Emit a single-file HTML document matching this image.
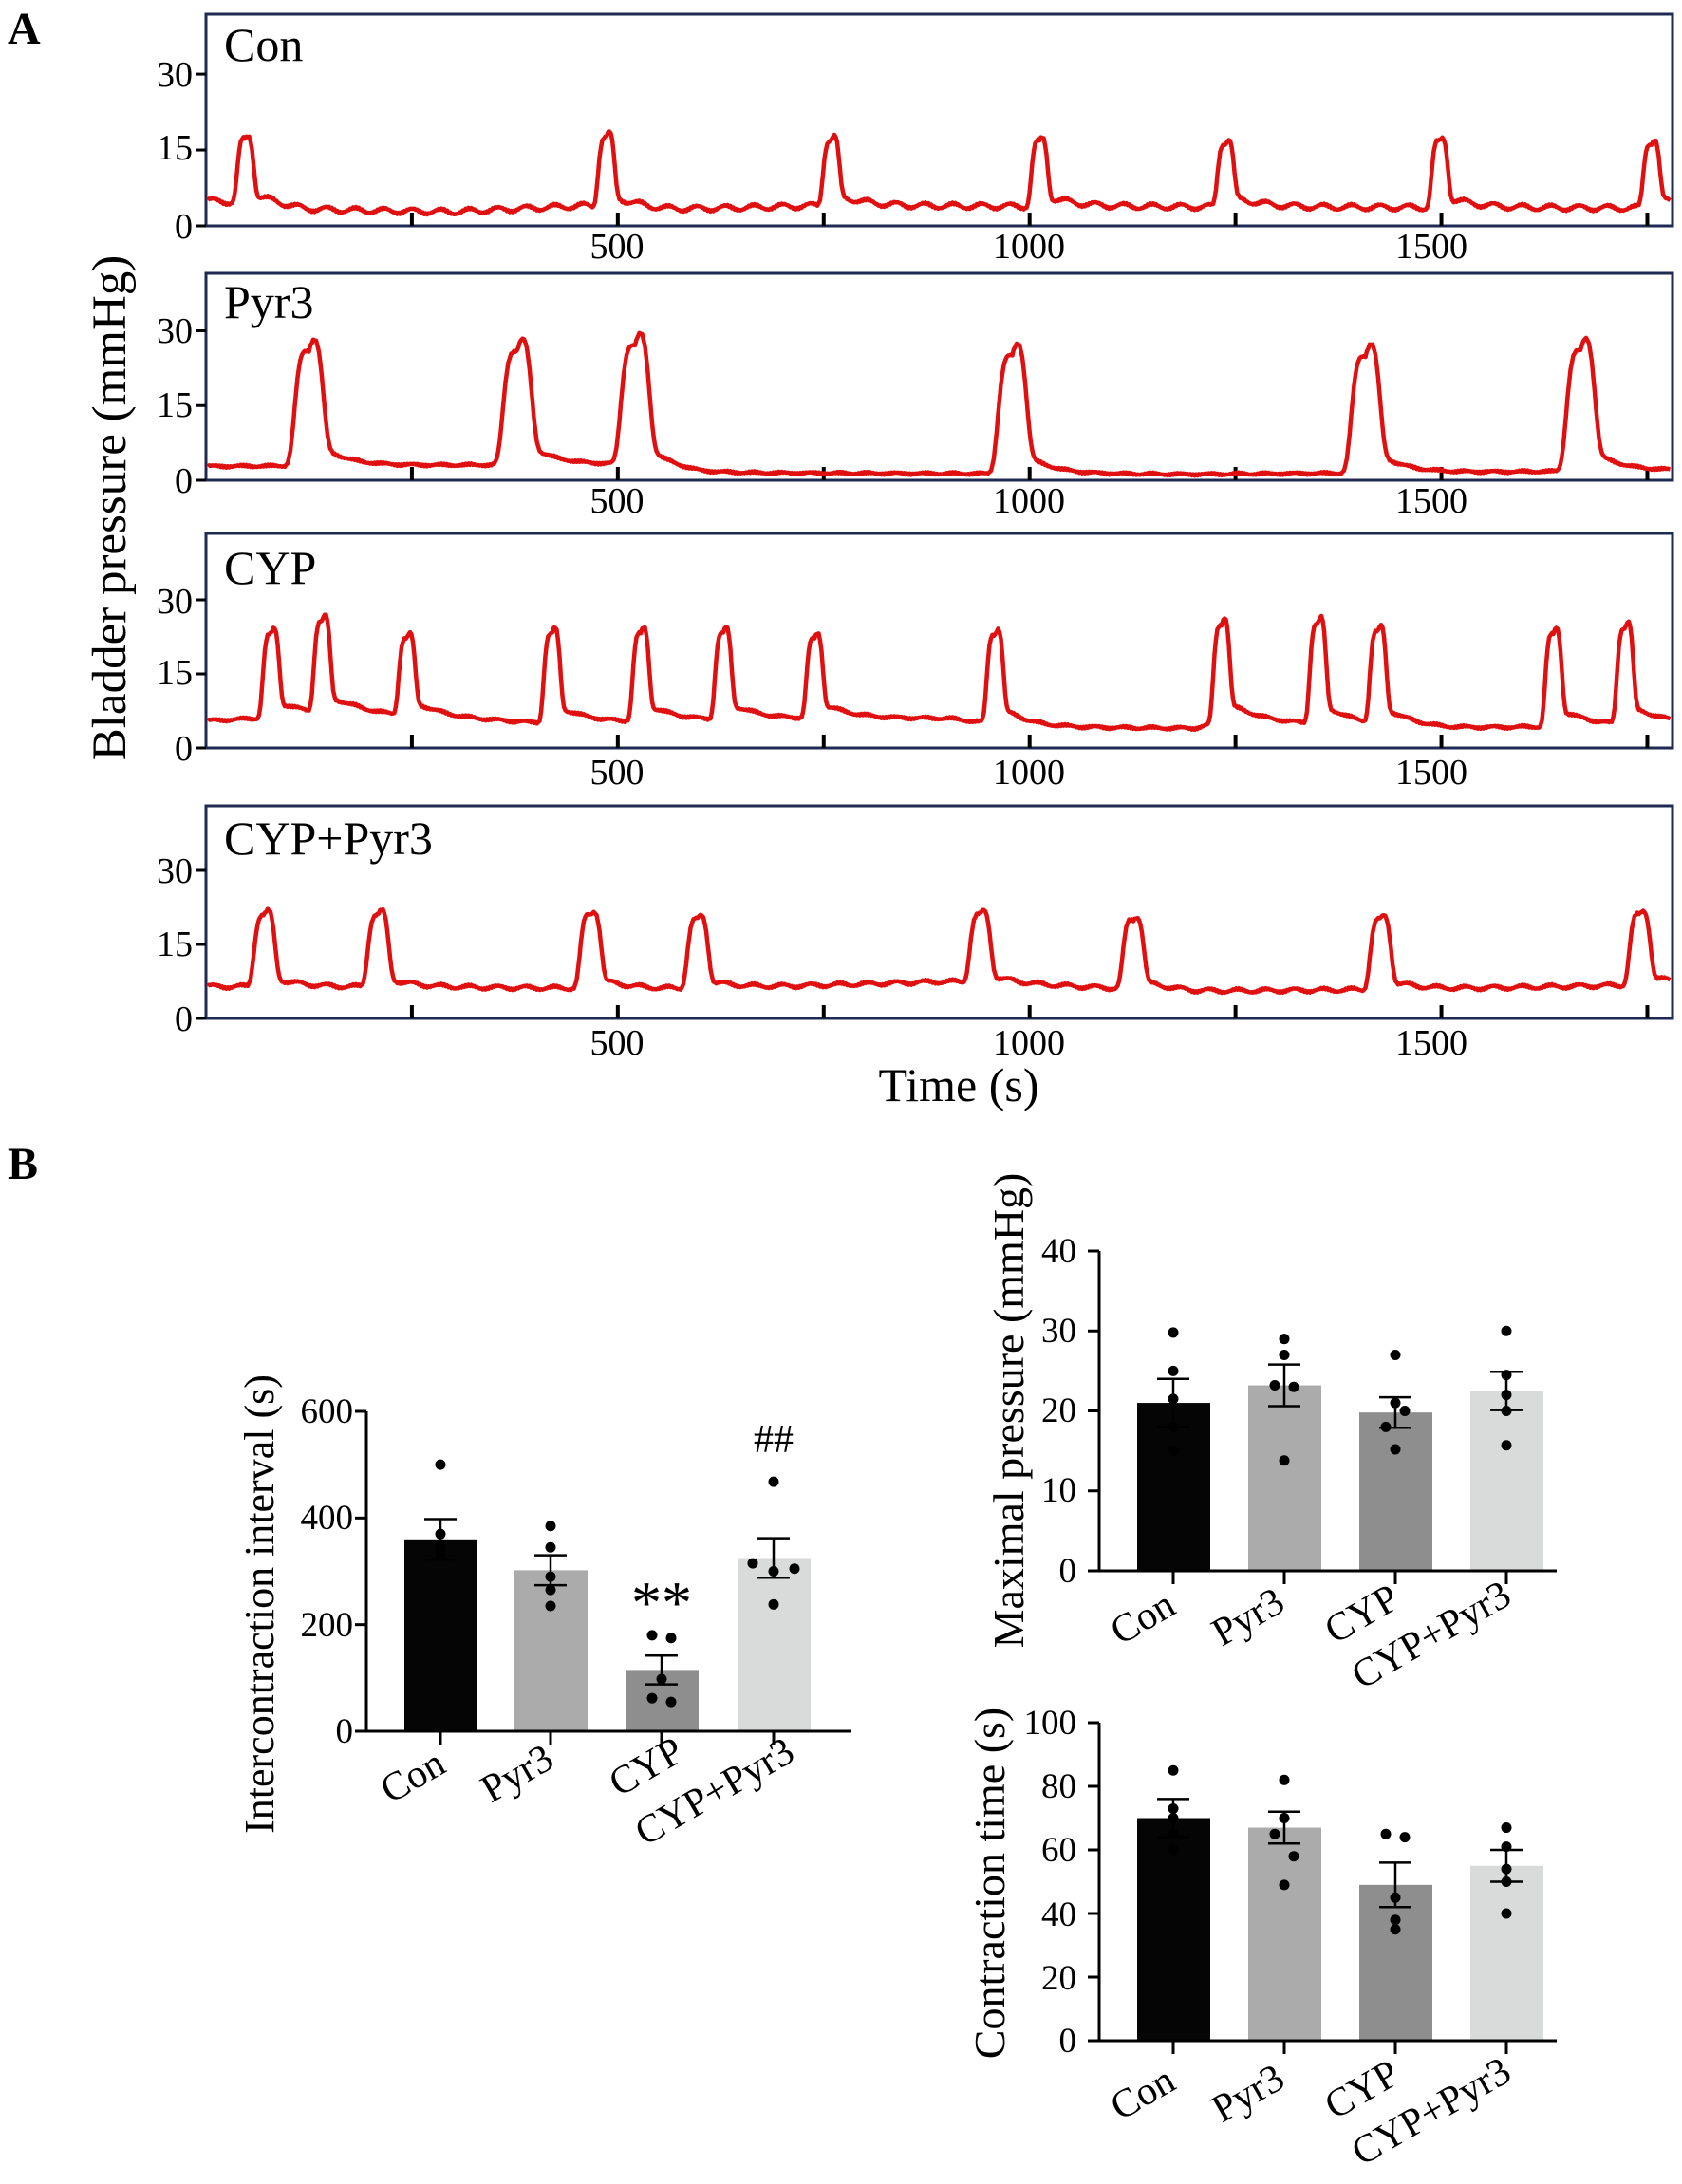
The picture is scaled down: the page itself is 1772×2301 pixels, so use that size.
<!DOCTYPE html>
<html><head><meta charset="utf-8"><style>
html,body{margin:0;padding:0;background:#fff;}
svg{display:block;font-family:"Liberation Serif",serif;}
</style></head><body>
<svg id="s" width="1772" height="2301" viewBox="0 0 1772 2301" xmlns="http://www.w3.org/2000/svg" font-family="Liberation Serif, serif">
<rect width="1772" height="2301" fill="#fff"/>
<text x="8" y="46" font-size="48" font-weight="bold">A</text>
<text x="8" y="1242" font-size="48" font-weight="bold">B</text>
<g id="traces"></g>
<g font-size="38" text-anchor="end">
<text x="203" y="91">30</text><text x="203" y="168">15</text><text x="203" y="251">0</text>
<text x="203" y="361">30</text><text x="203" y="439">15</text><text x="203" y="519">0</text>
<text x="203" y="646">30</text><text x="203" y="721">15</text><text x="203" y="801">0</text>
<text x="203" y="930">30</text><text x="203" y="1007">15</text><text x="203" y="1086">0</text>
</g>
<g font-size="38" text-anchor="middle">
<text x="650" y="272">500</text><text x="1084" y="272">1000</text><text x="1508" y="272">1500</text>
<text x="650" y="540">500</text><text x="1084" y="540">1000</text><text x="1508" y="540">1500</text>
<text x="650" y="826">500</text><text x="1084" y="826">1000</text><text x="1508" y="826">1500</text>
<text x="650" y="1111">500</text><text x="1084" y="1111">1000</text><text x="1508" y="1111">1500</text>
</g>
<g font-size="50">
<text x="236" y="64">Con</text><text x="236" y="335">Pyr3</text><text x="236" y="615">CYP</text><text x="236" y="900">CYP+Pyr3</text>
</g>
<text x="1010" y="1160" font-size="50" text-anchor="middle">Time (s)</text>
<text transform="translate(132,535) rotate(-90)" font-size="51" text-anchor="middle">Bladder pressure (mmHg)</text>

<g id="bars"></g>
<!-- left chart -->
<g font-size="37" text-anchor="end">
<text x="372" y="1499">600</text><text x="372" y="1611">400</text><text x="372" y="1724">200</text><text x="372" y="1836">0</text>
</g>
<text transform="translate(288,1690) rotate(-90)" font-size="44" text-anchor="middle">Intercontraction interval (s)</text>
<g font-size="42" text-anchor="middle" dominant-baseline="central">
<text transform="translate(435,1872) rotate(-30)">Con</text>
<text transform="translate(545,1869) rotate(-30)">Pyr3</text>
<text transform="translate(681,1862) rotate(-30)">CYP</text>
<text transform="translate(753,1888) rotate(-30)">CYP+Pyr3</text>
</g>
<text x="697" y="1710" font-size="64" text-anchor="middle">**</text>
<text x="815" y="1530" font-size="42" text-anchor="middle">##</text>
<!-- right top -->
<g font-size="37" text-anchor="end">
<text x="1134" y="1330">40</text><text x="1134" y="1414">30</text><text x="1134" y="1498">20</text><text x="1134" y="1582">10</text><text x="1134" y="1667">0</text>
</g>
<text transform="translate(1078,1486) rotate(-90)" font-size="46" text-anchor="middle">Maximal pressure (mmHg)</text>
<g font-size="42" text-anchor="middle" dominant-baseline="central">
<text transform="translate(1204,1705) rotate(-30)">Con</text>
<text transform="translate(1315,1704) rotate(-30)">Pyr3</text>
<text transform="translate(1435,1701) rotate(-30)">CYP</text>
<text transform="translate(1508,1723) rotate(-30)">CYP+Pyr3</text>
</g>
<!-- right bottom -->
<g font-size="37" text-anchor="end">
<text x="1134" y="1827">100</text><text x="1134" y="1894">80</text><text x="1134" y="1961">60</text><text x="1134" y="2029">40</text><text x="1134" y="2096">20</text><text x="1134" y="2162">0</text>
</g>
<text transform="translate(1058,1984) rotate(-90)" font-size="46" text-anchor="middle">Contraction time (s)</text>
<g font-size="42" text-anchor="middle" dominant-baseline="central">
<text transform="translate(1204,2206) rotate(-30)">Con</text>
<text transform="translate(1315,2206) rotate(-30)">Pyr3</text>
<text transform="translate(1435,2202) rotate(-30)">CYP</text>
<text transform="translate(1508,2225) rotate(-30)">CYP+Pyr3</text>
</g>
</svg>
<script>
(function(){
var NS="http://www.w3.org/2000/svg";
function el(p,t,a){var e=document.createElementNS(NS,t);for(var k in a)e.setAttribute(k,a[k]);p.appendChild(e);return e;}
function interp(pts,t){if(t<=pts[0][0])return pts[0][1];for(var i=1;i<pts.length;i++){if(t<=pts[i][0]){var a=pts[i-1],b=pts[i];return a[1]+(b[1]-a[1])*(t-a[0])/(b[0]-a[0]);}}return pts[pts.length-1][1];}
var T=document.getElementById('traces');
var X0=217,XR=1762,SX=0.8677;
var panels=[
 {top:15,bot:238,sc:5.33,w:11,tail:0.25,osc:0.5,bp:[[0,5],[60,4.5],[120,3.2],[300,2.8],[460,4],[560,3.2],[740,4],[1800,3.5]],
  pk:[[48,17],[486,17.5],[759,17],[1012,16.5],[1238,16.5],[1498,16.5],[1755,16.5]]},
 {top:288,bot:506,sc:5.25,w:19,tail:0.3,osc:0.15,bp:[[0,2.8],[500,3.2],[600,1.5],[1200,1.2],[1800,2]],
  pk:[[125,26],[378,26],[521,27],[979,25],[1408,25],[1669,26]]},
 {top:562,bot:788,sc:5.2,w:11,tail:0.3,osc:0.2,bp:[[0,5.5],[180,7],[300,6],[420,5],[740,6],[900,6],[1000,4.2],[1200,4],[1240,5.5],[1500,4],[1700,4.5],[1800,5]],
  pk:[[79,23],[141,25],[244,22],[420,23],[528,23],[628,23],[739,22],[958,23],[1233,25],[1350,25],[1423,23],[1636,23],[1723,24]]},
 {top:849,bot:1073,sc:5.2,w:14,tail:0.2,osc:0.35,bp:[[0,6.5],[300,6.3],[600,6],[900,7.5],[1200,5.5],[1500,6],[1800,7]],
  pk:[[71,21],[209,21],[467,21],[597,20],[940,21],[1126,20],[1426,20],[1741,21]]}
];
panels.forEach(function(P){
  el(T,'rect',{x:X0,y:P.top,width:XR-X0,height:P.bot-P.top,fill:'none',stroke:'#1f2a52','stroke-width':3});
  [0,15,30].forEach(function(v){var y=P.bot-v*P.sc;el(T,'line',{x1:206,x2:X0,y1:y,y2:y,stroke:'#000','stroke-width':3});});
  for(var s=250;s<1800;s+=250){var x=X0+s*SX;el(T,'line',{x1:x,x2:x,y1:P.bot,y2:P.bot-14,stroke:'#000','stroke-width':4});}
  var d='';
  for(var px=X0+2;px<=XR-2;px+=1.5){
    var t=(px-X0)/SX,v=interp(P.bp,t)+P.osc*Math.sin(t/5.5)+0.15*Math.sin(t*1.7);
    P.pk.forEach(function(k){var dt=t-k[0],A=k[1]-interp(P.bp,k[0]);
      var g=Math.exp(-Math.pow(dt/P.w,4));
      var tl=dt>0?P.tail*A*Math.exp(-dt/30)*(1-Math.exp(-dt/10)):0;
      v+=A*g+tl;});
    var y=P.bot-v*P.sc;d+=(d?'L':'M')+px.toFixed(1)+' '+y.toFixed(1);
  }
  el(T,'path',{d:d,fill:'none',stroke:'#e01010','stroke-width':4.5,'stroke-linejoin':'round'});
});
var B=document.getElementById('bars');
var cols=['#050505','#ababab','#8e8e8e','#d9dbda'];
var charts=[
 {ax:386,x1:897,y0:1824,sc:337/600,ticks:[0,200,400,600],cx:[464,580,697,815],
  v:[360,302,115,325],e:[38,28,27,37],dots:[[500,370,340,350,330],[385,345,290,265,235],[180,175,98,62,55],[468,315,300,305,238]],
  dx:[[0,0,0,0,0],[0,0,0,0,0],[-10,10,0,-10,10],[0,-22,0,22,0]]},
 {ax:1158,x1:1640,y0:1655,sc:337/40,ticks:[0,10,20,30,40],cx:[1236,1353,1470,1587],
  v:[21,23.2,19.8,22.5],e:[3,2.6,1.9,2.4],dots:[[29.8,25,21.5,18,15],[29,27,23.2,23,13.8],[27,21,20,18,15.2],[30,24.5,22,20,15.7]],
  dx:[[0,0,0,0,0],[0,0,-10,10,0],[0,0,10,-10,0],[0,0,0,0,0]]},
 {ax:1158,x1:1640,y0:2150,sc:335/100,ticks:[0,20,40,60,80,100],cx:[1236,1353,1470,1587],
  v:[70,67,49,55],e:[6,5,7,5],dots:[[85,73,70,65,60],[82,70,65,58,49],[65,64,45,38,35],[67,61,54,50,40]],
  dx:[[0,0,0,0,0],[0,0,-10,10,0],[-10,10,0,0,0],[0,0,0,0,0]]}
];
charts.forEach(function(C){
  C.cx.forEach(function(cx,i){
    var top=C.y0-C.v[i]*C.sc;
    el(B,'rect',{x:cx-38,y:top,width:77,height:C.v[i]*C.sc,fill:cols[i]});
  });
  C.cx.forEach(function(cx,i){
    var lo=C.y0-(C.v[i]-C.e[i])*C.sc,hi=C.y0-(C.v[i]+C.e[i])*C.sc;
    el(B,'line',{x1:cx,x2:cx,y1:lo,y2:hi,stroke:'#000','stroke-width':2.5});
    el(B,'line',{x1:cx-17,x2:cx+17,y1:lo,y2:lo,stroke:'#000','stroke-width':2.5});
    el(B,'line',{x1:cx-17,x2:cx+17,y1:hi,y2:hi,stroke:'#000','stroke-width':2.5});
    C.dots[i].forEach(function(dv,j){el(B,'circle',{cx:cx+C.dx[i][j],cy:C.y0-dv*C.sc,r:5.5,fill:'#000'});});
    el(B,'line',{x1:cx,x2:cx,y1:C.y0,y2:C.y0+14,stroke:'#000','stroke-width':3});
  });
  el(B,'line',{x1:C.ax,x2:C.ax,y1:C.y0,y2:C.y0-C.ticks[C.ticks.length-1]*C.sc,stroke:'#000','stroke-width':3});
  el(B,'line',{x1:C.ax-12,x2:C.x1,y1:C.y0,y2:C.y0,stroke:'#000','stroke-width':3});
  C.ticks.forEach(function(tv){var y=C.y0-tv*C.sc;el(B,'line',{x1:C.ax-12,x2:C.ax,y1:y,y2:y,stroke:'#000','stroke-width':3});});
});
})();
</script>
</body></html>
